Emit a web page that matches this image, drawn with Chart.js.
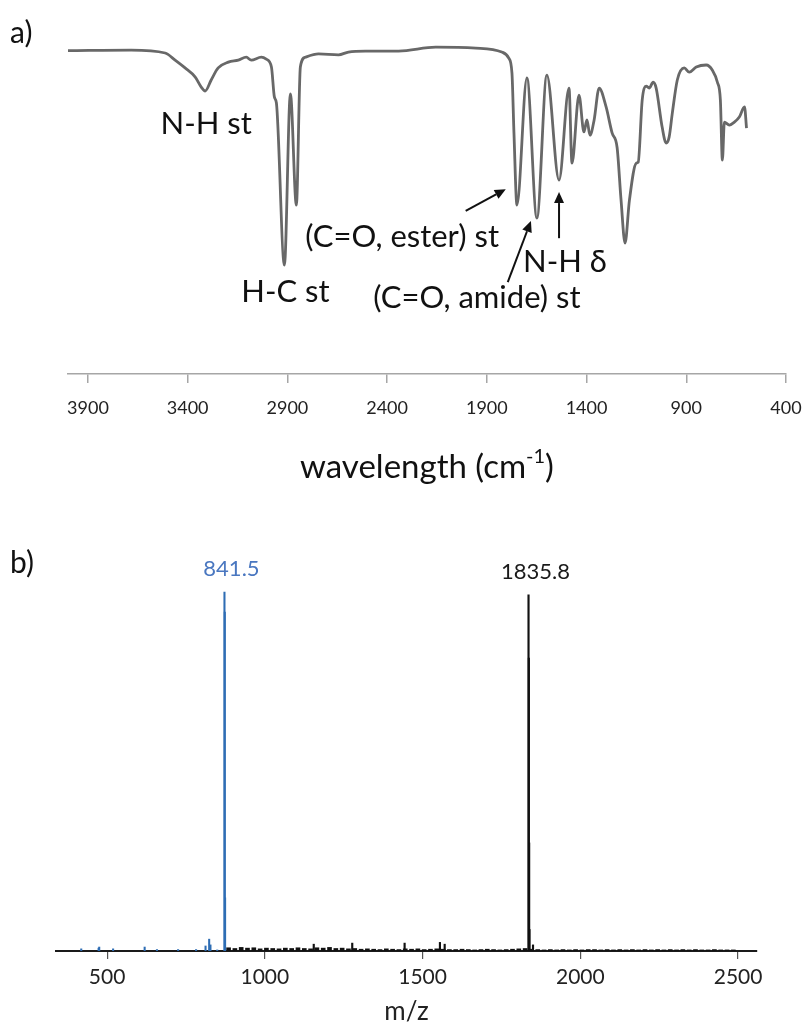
<!DOCTYPE html>
<html>
<head>
<meta charset="utf-8">
<script src="https://cdn.jsdelivr.net/npm/chart.js@4.4.1/dist/chart.umd.min.js"></script>
<style>
  html, body { margin: 0; padding: 0; background: #fff; overflow: hidden; }
  body { width: 807px; height: 1022px; position: relative; font-family: Lato, 'Open Sans', sans-serif; }
  .panel-tag { position: absolute; left: 10px; font-size: 30px; line-height: 1; color: #111; }
  #wrapA { position: absolute; left: 0; top: 0; }
  #wrapB { position: absolute; left: 0; top: 500px; }
</style>
</head>
<body>
<div id="wrapA"><canvas id="irChart" width="807" height="500"></canvas></div>
<div id="wrapB"><canvas id="msChart" width="807" height="522"></canvas></div>
<div class="panel-tag" style="top:16px">a)</div>
<div class="panel-tag" style="top:546px">b)</div>
<script>
// ---- a) IR spectrum ----
const irWavenumber = [4000, 3684, 3513, 3463, 3413, 3362, 3332, 3312, 3282, 3247,
  3196, 3146, 3106, 3081, 3031, 3006, 2980, 2965, 2955, 2915,
  2885, 2855, 2835, 2810, 2744, 2644, 2594, 2508, 2342, 2156,
  1955, 1825, 1790, 1774, 1764, 1749, 1699, 1649, 1599, 1538,
  1488, 1473, 1438, 1413, 1398, 1383, 1362, 1337, 1302, 1272,
  1247, 1227, 1207, 1185, 1151, 1141, 1121, 1101, 1086, 1066,
  1051, 1021, 1001, 986, 970, 945, 910, 885, 850, 800,
  769, 744, 729, 719, 709, 684, 659, 634, 608, 598];
const irTransmittance = [99.5, 99.7, 98.8, 96.6, 94.2, 91.4, 88.3, 87.1, 90.5, 94.2,
  96.0, 96.6, 97.5, 96.6, 97.5, 96.9, 94.5, 85.2, 83.4, 33.5,
  86.2, 52.0, 94.5, 97.5, 98.5, 98.2, 99.1, 99.4, 99.4, 100.6,
  100.3, 99.1, 97.2, 92.6, 74.2, 52.0, 91.1, 48.0, 92.0, 59.7,
  88.0, 64.9, 85.8, 74.5, 78.2, 73.5, 78.2, 88.0, 82.2, 74.2,
  69.8, 53.5, 40.3, 53.5, 64.9, 65.2, 84.3, 88.6, 88.0, 89.8,
  88.0, 76.0, 71.1, 72.9, 80.3, 90.5, 94.2, 92.9, 94.5, 95.1,
  93.5, 89.8, 84.3, 65.8, 77.5, 76.6, 77.5, 79.1, 82.2, 75.7];
const irTicks = [3900, 3400, 2900, 2400, 1900, 1400, 900, 400];

const irNotes = [
  { text: 'N-H st', wn: 3307, t: 76.9 },
  { text: 'H-C st', wn: 2910, t: 25.2 },
  { text: '(C=O, ester) st', wn: 2325, t: 42.2 },
  { text: '(C=O, amide) st', wn: 1950, t: 23.4 },
  { text: 'N-H \u03b4', wn: 1508, t: 34.5 }
];
const irArrows = [
  { from: [2006, 50.2], to: [1805, 56.9] },
  { from: [1795, 28.3], to: [1679, 47.1] },
  { from: [1538, 41.8], to: [1538, 56.0] }
];

// ---- b) mass spectrum ----
const blueMz = [418, 473, 475, 519, 619, 658, 725, 782, 812, 823.5, 827.6, 849, 872, 873, 874];
const blueIntensity = [0.6, 0.8, 1.1, 0.6, 1.1, 0.4, 0.4, 0.4, 1.4, 3.3, 1.7, 0.3, 100, 94.4, 14.8];

const blackPeakMz = [1155, 1277, 1443, 1555, 1570, 1835.8, 1836.8, 1837.8, 1838.8, 1850];
const blackPeakIntensity = [1.9, 2.2, 2.2, 2.4, 1.9, 99.2, 81.6, 30.1, 6, 1.7];

const blackNoiseMz = [885, 905, 925, 945, 965, 985, 1005, 1025, 1045, 1065,
  1085, 1105, 1125, 1145, 1165, 1185, 1205, 1225, 1245, 1265,
  1285, 1305, 1325, 1345, 1365, 1385, 1405, 1425, 1445, 1465,
  1485, 1505, 1525, 1545, 1565, 1585, 1605, 1625, 1645, 1665,
  1685, 1705, 1725, 1745, 1765, 1785, 1805, 1825, 1845, 1865,
  1885, 1905, 1925, 1945, 1965, 1985, 2005, 2025, 2045, 2065,
  2085, 2105, 2125, 2145, 2165, 2185, 2205, 2225, 2245, 2265,
  2285, 2305, 2325, 2345, 2365, 2385, 2405, 2425, 2445, 2465, 2485];
const blackNoiseIntensity = [0.9, 0.7, 1.0, 0.8, 0.9, 0.6, 0.8, 0.7, 0.6, 0.8,
  0.7, 0.9, 0.7, 0.6, 0.9, 0.8, 1.0, 0.7, 0.8, 0.6,
  0.7, 0.5, 0.6, 0.5, 0.4, 0.6, 0.5, 0.4, 0.6, 0.5,
  0.6, 0.4, 0.5, 0.6, 0.5, 0.4, 0.4, 0.5, 0.4, 0.3,
  0.4, 0.5, 0.4, 0.3, 0.4, 0.5, 0.6, 0.7, 0.5, 0.4,
  0.3, 0.4, 0.3, 0.4, 0.3, 0.4, 0.3, 0.4, 0.4, 0.3,
  0.4, 0.3, 0.4, 0.3, 0.4, 0.3, 0.4, 0.3, 0.4, 0.3,
  0.4, 0.3, 0.4, 0.3, 0.4, 0.3, 0.3, 0.4, 0.3, 0.3, 0.3];
const msTicks = [500, 1000, 1500, 2000, 2500];

const msPeakLabels = [
  { text: '841.5', mz: blueMz, val: blueIntensity, color: '#4a77c0' },
  { text: '1835.8', mz: blackPeakMz, val: blackPeakIntensity, color: '#1a1a1a' }
];

Chart.defaults.font.family = "Lato, 'Open Sans', sans-serif";

const toPts = (xs, ys) => xs.map((x, i) => ({ x: x, y: ys[i] }));

// text notes + arrows on the IR plot, placed via the scales
const irAnnotations = {
  id: 'irAnnotations',
  afterDraw(chart) {
    const ctx = chart.ctx;
    const xs = chart.scales.x, ys = chart.scales.y;
    ctx.save();
    ctx.fillStyle = '#111';
    ctx.font = "31px Lato, 'Open Sans', sans-serif";
    ctx.textAlign = 'center';
    ctx.textBaseline = 'middle';
    irNotes.forEach(n => {
      ctx.fillText(n.text, xs.getPixelForValue(n.wn), ys.getPixelForValue(n.t));
    });

    ctx.strokeStyle = '#111';
    ctx.lineWidth = 2;
    irArrows.forEach(a => {
      const x1 = xs.getPixelForValue(a.from[0]), y1 = ys.getPixelForValue(a.from[1]);
      const x2 = xs.getPixelForValue(a.to[0]), y2 = ys.getPixelForValue(a.to[1]);
      const ang = Math.atan2(y2 - y1, x2 - x1);
      const hl = 11, hw = 5;
      const bx = x2 - hl * Math.cos(ang), by = y2 - hl * Math.sin(ang);
      ctx.beginPath();
      ctx.moveTo(x1, y1);
      ctx.lineTo(bx, by);
      ctx.stroke();
      ctx.beginPath();
      ctx.moveTo(x2, y2);
      ctx.lineTo(bx + hw * Math.sin(ang), by - hw * Math.cos(ang));
      ctx.lineTo(bx - hw * Math.sin(ang), by + hw * Math.cos(ang));
      ctx.closePath();
      ctx.fill();
    });

    // axis title with superscript
    const area = chart.chartArea;
    const cx = (area.left + area.right) / 2;
    const ty = 467;
    const mainFont = "33px Lato, 'Open Sans', sans-serif";
    const supFont = "20px Lato, 'Open Sans', sans-serif";
    ctx.font = mainFont;
    const w1 = ctx.measureText('wavelength (cm').width;
    const w3 = ctx.measureText(')').width;
    ctx.font = supFont;
    const w2 = ctx.measureText('-1').width;
    let x = cx - (w1 + w2 + w3) / 2;
    ctx.textAlign = 'left';
    ctx.fillStyle = '#111';
    ctx.font = mainFont;
    ctx.fillText('wavelength (cm', x, ty);
    x += w1;
    ctx.font = supFont;
    ctx.fillText('-1', x, ty - 10);
    x += w2;
    ctx.font = mainFont;
    ctx.fillText(')', x, ty);
    ctx.restore();
  }
};

new Chart(document.getElementById('irChart'), {
  type: 'line',
  data: {
    datasets: [{
      data: toPts(irWavenumber, irTransmittance),
      borderColor: '#686868', borderWidth: 2.8,
      pointRadius: 0, fill: false, cubicInterpolationMode: 'monotone'
    }]
  },
  options: {
    responsive: false, animation: false, events: [],
    layout: { padding: { top: 40, left: 68, right: 21, bottom: 0 } },
    plugins: { legend: { display: false }, tooltip: { enabled: false } },
    scales: {
      x: {
        type: 'linear', reverse: true, min: 400, max: 4000,
        afterBuildTicks: s => { s.ticks = irTicks.map(v => ({ value: v })); },
        afterFit: s => { s.height = 126; s.paddingLeft = 0; s.paddingRight = 0; },
        border: { display: true, color: '#a6a6a6', width: 1.5 },
        grid: { drawOnChartArea: false, drawTicks: true, tickLength: 9, color: '#a6a6a6', lineWidth: 1.5 },
        ticks: { autoSkip: false, maxRotation: 0, padding: 14, color: '#222', font: { size: 18 },
          callback: v => String(v) }
      },
      y: { display: false, min: 0, max: 102.8 }
    }
  },
  plugins: [irAnnotations]
});

// peak labels above the two main MS peaks
const msLabels = {
  id: 'msLabels',
  afterDraw(chart) {
    const ctx = chart.ctx;
    const xs = chart.scales.x, ys = chart.scales.y;
    ctx.save();
    ctx.font = "22px Lato, 'Open Sans', sans-serif";
    ctx.textAlign = 'center';
    ctx.textBaseline = 'middle';
    msPeakLabels.forEach(l => {
      let k = 0;
      l.val.forEach((v, i) => { if (v > l.val[k]) k = i; });
      ctx.fillStyle = l.color;
      ctx.fillText(l.text, xs.getPixelForValue(l.mz[k]) + 7, ys.getPixelForValue(l.val[k]) - 23);
    });
    ctx.restore();
  }
};

new Chart(document.getElementById('msChart'), {
  type: 'bar',
  data: {
    datasets: [
      { data: toPts(blueMz, blueIntensity), backgroundColor: '#2e6db4', barThickness: 1.4, grouped: false },
      { data: toPts(blackNoiseMz, blackNoiseIntensity), backgroundColor: '#111', barThickness: 4, grouped: false },
      { data: toPts(blackPeakMz, blackPeakIntensity), backgroundColor: '#111', barThickness: 1.5, grouped: false }
    ]
  },
  options: {
    responsive: false, animation: false, events: [],
    layout: { padding: { top: 60, left: 56, right: 50, bottom: 0 } },
    plugins: { legend: { display: false }, tooltip: { enabled: false } },
    scales: {
      x: {
        type: 'linear', min: 338, max: 2560, offset: false,
        afterBuildTicks: s => { s.ticks = msTicks.map(v => ({ value: v })); },
        afterFit: s => { s.height = 71; s.paddingLeft = 0; s.paddingRight = 0; },
        border: { display: true, color: '#1a1a1a', width: 2 },
        grid: { offset: false, drawOnChartArea: false, drawTicks: true, tickLength: 8, color: '#555', lineWidth: 1.2 },
        ticks: { autoSkip: false, maxRotation: 0, padding: 6, color: '#222', font: { size: 21 },
          callback: v => String(v) },
        title: { display: true, text: 'm/z', color: '#222', font: { size: 26, lineHeight: 0.8 }, padding: 0 }
      },
      y: { display: false, min: 0, max: 108.9 }
    }
  },
  plugins: [msLabels]
});
</script>
</body>
</html>
